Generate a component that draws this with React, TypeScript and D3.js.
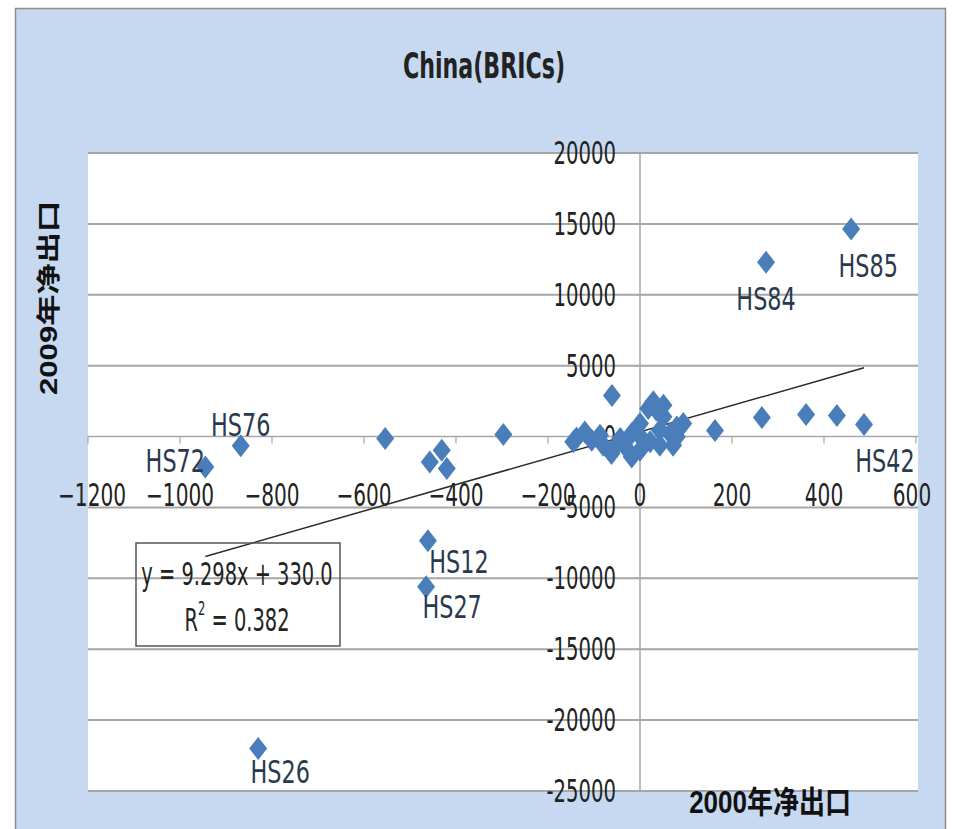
import React from "react";
import * as d3 from "d3";

// ---- data ----
const xTicks = [-1200, -1000, -800, -600, -400, -200, 0, 200, 400, 600];
const yTicks = [20000, 15000, 10000, 5000, 0, -5000, -10000, -15000, -20000, -25000];

const labeledNames = ["HS85", "HS84", "HS42", "HS76", "HS72", "HS12", "HS27", "HS26"];
const labeledX = [459, 274, 487, -868, -945, -461, -465, -830];
const labeledY = [14640, 12300, 850, -640, -2150, -7350, -10600, -22000];

const otherX = [
  163, 265, 361, 428,
  -554, -457, -431, -420, -297,
  -145, -138, -120, -105, -87, -80, -62, -54, -43, -29, -18, -18, 0, 0, 7, 18, 22, 29, 36, 43, 43, 51, 51, 65, 72, 80, 80, 94, -61,
];
const otherY = [
  420, 1340, 1560, 1490,
  -140, -1790, -970, -2260, 150,
  -375, -100, 330, -260, 100, -610, -1200, -700, -140, -850, 210, -1440, 920, -970, -260, 1980, -375, 2450, 1860, 450, -610, 1390, 2210, 210, -610, 680, -20, 920, 2900,
];

const slope = 9.298;
const intercept = 330.0;
const equationText = "y = 9.298x + 330.0";
const r2Text = "0.382";
const title = "China(BRICs)";
const xTitle = "2000年净出口";
const yTitle = "2009年净出口";

// label offsets (layout)
const labelDx = [17, 0, 21, 0, -30, 31, 26, 22];
const labelDy = [37, 37, 36, -21, -6, 21, 20, 23];

const FONT = "'Liberation Sans Narrow', 'DejaVu Sans Condensed', 'Liberation Sans', sans-serif";
const SY = 1.2;

function T(props: { x: number; y: number; anchor?: string; size: number; weight?: string | number; sx?: number; sy?: number; children: React.ReactNode; fill?: string; family?: string }) {
  const { x, y, anchor = "middle", size, weight = "normal", sx = 1, sy = SY, children, fill = "#222", family = FONT } = props;
  return (
    <text
      transform={`translate(${x},${y}) scale(${sx},${sy})`}
      textAnchor={anchor}
      dominantBaseline="central"
      fontFamily={family}
      fontSize={size}
      fontWeight={weight}
      fill={fill}
    >
      {children}
    </text>
  );
}

export default function App() {
  const W = 961, H = 829;
  const plotL = 88, plotR = 916, plotT = 153, plotB = 791;
  const x = d3.scaleLinear().domain([-1200, 600]).range([plotL, plotR]);
  const y = d3.scaleLinear().domain([-25000, 20000]).range([plotB, plotT]);

  const allX = [...labeledX, ...otherX];
  const [xmin, xmax] = d3.extent(allX) as [number, number];
  const trend = d3.line<number>().x((d) => x(d)).y((d) => y(slope * d + intercept));

  const diamond = (cx: number, cy: number) => {
    const hw = 9, hh = 11.5;
    return `M${cx},${cy - hh}L${cx + hw},${cy}L${cx},${cy + hh}L${cx - hw},${cy}Z`;
  };
  const blue = "#4a7ebb";
  const gridC = "#a6a6a6";

  const points = allX.map((vx, i) => ({ vx, vy: i < labeledX.length ? labeledY[i] : otherY[i - labeledX.length] }));

  return (
    <svg width={W} height={H} style={{ position: "absolute", left: 0, top: 0 }} xmlns="http://www.w3.org/2000/svg">
      <rect x={0} y={0} width={W} height={H} fill="#ffffff" />
      <rect x={15.5} y={8.5} width={930} height={840} fill="#c6d9f0" stroke="#8c8c8c" strokeWidth={1.5} />
      <rect x={plotL} y={plotT} width={plotR - plotL + 2} height={plotB - plotT} fill="#ffffff" />

      {/* horizontal gridlines */}
      {yTicks.map((t) => (
        <line key={"g" + t} x1={plotL} x2={plotR + 2} y1={y(t)} y2={y(t)} stroke={gridC} strokeWidth={t === 0 ? 1.5 : 2} />
      ))}
      {/* vertical axis */}
      <line x1={x(0)} x2={x(0)} y1={plotT} y2={plotB} stroke={gridC} strokeWidth={1.5} />
      {yTicks.map((t) => (
        <line key={"yt" + t} x1={x(0) - 5} x2={x(0)} y1={y(t)} y2={y(t)} stroke={gridC} strokeWidth={1.2} />
      ))}
      {/* x axis ticks */}
      {xTicks.map((t) => (
        <line key={"xt" + t} x1={x(t)} x2={x(t)} y1={y(0)} y2={y(0) + 7} stroke={gridC} strokeWidth={1.2} />
      ))}

      {/* y tick labels */}
      {yTicks.map((t) => (
        <T key={"yl" + t} x={x(0) - 24} y={y(t)} anchor="end" size={26} sx={0.84}>
          {t < 0 ? "-" + Math.abs(t) : String(t)}
        </T>
      ))}
      {/* x tick labels */}
      {xTicks.map((t) => (
        <T key={"xl" + t} x={x(t) + (t === 600 ? -4 : t === -1200 ? 4 : 0)} y={y(0) + 59} size={26} sx={0.86}>
          {t < 0 ? "\u2212" + Math.abs(t) : String(t)}
        </T>
      ))}

      {/* trendline */}
      <path d={trend([xmin, xmax]) || ""} stroke="#2b2b2b" strokeWidth={1.5} fill="none" />

      {/* points */}
      {points.map((p, i) => (
        <path key={"p" + i} d={diamond(x(p.vx), y(p.vy))} fill={blue} />
      ))}

      {/* point labels */}
      {labeledNames.map((n, i) => (
        <T key={"lb" + n} x={x(labeledX[i]) + labelDx[i]} y={y(labeledY[i]) + labelDy[i]} size={27} sx={0.92} fill="#2a3a4e">
          {n}
        </T>
      ))}

      {/* equation box */}
      <rect x={136} y={543} width={204} height={103} fill="none" stroke="#555" strokeWidth={1.5} />
      <T x={237} y={573} size={27} sx={0.8}>{equationText}</T>
      <T x={237} y={619} size={27} sx={0.8}>
        R<tspan fontSize={16} dy={-9}>2</tspan><tspan dy={9}>{" = " + r2Text}</tspan>
      </T>

      {/* titles */}
      <T x={484} y={65} size={30} weight={600} sx={0.82}>{title}</T>
      <T x={770} y={802} size={26} weight="bold" anchor="middle" fill="#111" family="'Liberation Sans', 'Noto Sans CJK SC', sans-serif">{xTitle}</T>
      <text
        transform={`translate(49,298) scale(1,1.3) rotate(-90)`}
        textAnchor="middle"
        dominantBaseline="central"
        fontFamily="'Liberation Sans', 'Noto Sans CJK SC', sans-serif"
        fontSize={24}
        fontWeight="bold"
        fill="#111"
      >
        {yTitle}
      </text>
    </svg>
  );
}
